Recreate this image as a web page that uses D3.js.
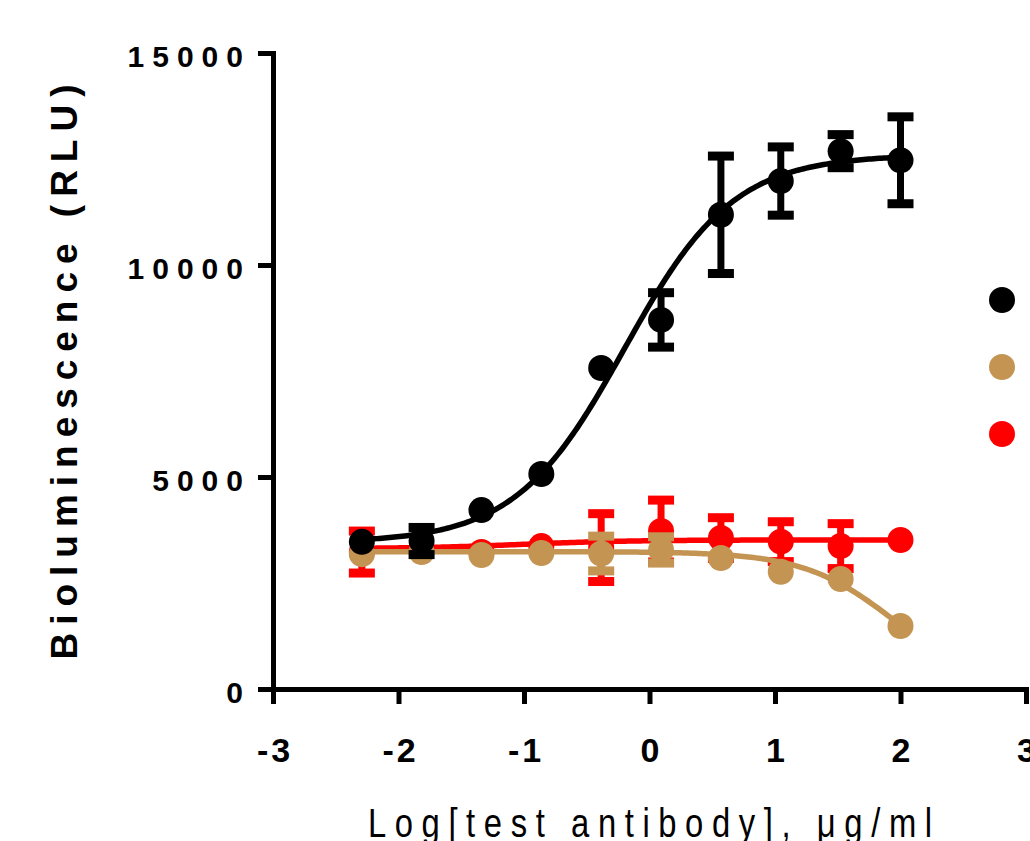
<!DOCTYPE html>
<html>
<head>
<meta charset="utf-8">
<script src="https://cdn.jsdelivr.net/npm/d3@7"></script>
<style>
  body { margin: 0; background: #fff; }
</style>
</head>
<body>
<div id="chart"></div>
<script>

// log10 concentration of the test antibody (3-fold dilutions)
var logConc = [-2.292, -1.816, -1.339, -0.862, -0.385, 0.092, 0.569, 1.046, 1.523, 2.0];

// mean RLU and error per series
var blackMean = [3470, 3490, 4220, 5070, 7570, 8705, 11184, 11980, 12685, 12470];
var blackErr  = [0, 320, 0, 0, 0, 642, 1385, 805, 390, 1025];
var tanMean   = [3180, 3230, 3160, 3207, 3195, 3280, 3090, 2765, 2595, 1485];
var tanErr    = [0, 0, 0, 0, 410, 310, 0, 0, 0, 0];
var redMean   = [3230, 3300, 3230, 3370, 3335, 3725, 3560, 3475, 3370, 3515];
var redErr    = [495, 0, 0, 0, 800, 730, 480, 470, 530, 0];

// 4PL fit parameters: bottom, top, logEC50, hill
var blackFit = [3450, 12600, -0.2, 1.0];
var tanFit   = [3240, 0, 1.95, 1.2];
var redFit   = [3310, 3515, -1.0, 1.0];

var xTicks = [-3, -2, -1, 0, 1, 2, 3];
var yTicks = [0, 5000, 10000, 15000];

var colors = ["#ff0000", "#c49452", "#000000"];   // red, tan, black
var legendColors = ["#000000", "#c49452", "#ff0000"];

var W = 1030, H = 841;

var svg = d3.select("#chart").append("svg")
    .attr("width", W)
    .attr("height", H)
    .style("display", "block");

svg.append("rect").attr("width", W).attr("height", H).attr("fill", "#fff");

var x = d3.scaleLinear().domain([-3, 3]).range([273, 1026]);
var y = d3.scaleLinear().domain([0, 15000]).range([689, 53]);

function fourPL(p, v) {
  return p[0] + (p[1] - p[0]) / (1 + Math.pow(10, (p[2] - v) * p[3]));
}

// axes
var yAxis = svg.append("g")
    .attr("transform", "translate(273,0)")
    .call(d3.axisLeft(y).tickValues(yTicks).tickSize(15).tickSizeOuter(0).tickPadding(7)
      .tickFormat(d3.format("d")));

var xAxis = svg.append("g")
    .attr("transform", "translate(0,689)")
    .call(d3.axisBottom(x).tickValues(xTicks).tickSize(15).tickSizeOuter(0)
      .tickFormat(function(d) { return d < 0 ? "-" + Math.abs(d) : d; }));

svg.selectAll(".domain").attr("stroke-width", 5).attr("stroke-linecap", "square");
svg.selectAll(".tick line").attr("stroke-width", 5);

yAxis.selectAll(".tick text")
    .style("font-family", "'Liberation Sans', Arial, sans-serif")
    .style("font-weight", "bold")
    .style("font-size", "30px")
    .style("letter-spacing", "8px")
    .attr("fill", "#000")
    .attr("dy", "0.45em");

xAxis.selectAll(".tick text")
    .style("font-family", "'Liberation Sans', Arial, sans-serif")
    .style("font-weight", "bold")
    .style("font-size", "34px")
    .style("letter-spacing", "3px")
    .attr("fill", "#000")
    .attr("y", 73)
    .attr("dy", 0)
    .attr("dx", 1.5);

// axis titles
svg.append("text")
    .attr("transform", "translate(650,837) scale(0.82,1)")
    .attr("text-anchor", "middle")
    .style("font-family", "'Liberation Sans', Arial, sans-serif")
    .style("font-size", "40px")
    .attr("textLength", 688)
    .attr("lengthAdjust", "spacing")
    .text("Log[test antibody], \u03bcg/ml");

svg.append("text")
    .attr("transform", "translate(77,372) rotate(-90)")
    .attr("text-anchor", "middle")
    .style("font-family", "'Liberation Sans', Arial, sans-serif")
    .style("font-weight", "bold")
    .style("font-size", "37px")
    .attr("textLength", 575)
    .attr("lengthAdjust", "spacing")
    .text("Bioluminescence (RLU)");

// series, drawn red -> tan -> black
var series = [
  { mean: redMean, err: redErr, fit: redFit, color: colors[0] },
  { mean: tanMean, err: tanErr, fit: tanFit, color: colors[1] },
  { mean: blackMean, err: blackErr, fit: blackFit, color: colors[2] }
];

var line = d3.line()
    .x(function(d) { return x(d); })
    .curve(d3.curveLinear);

var xs = d3.range(logConc[0], logConc[logConc.length - 1] + 0.0001, 0.02);

series.forEach(function(s) {
  var g = svg.append("g");

  g.append("path")
      .datum(xs)
      .attr("fill", "none")
      .attr("stroke", s.color)
      .attr("stroke-width", 5.5)
      .attr("d", line.y(function(v) { return y(fourPL(s.fit, v)); }));

  var pts = logConc.map(function(c, i) { return { c: c, m: s.mean[i], e: s.err[i] }; });
  var withErr = pts.filter(function(d) { return d.e > 0; });

  g.selectAll(".eb").data(withErr).enter().append("line")
      .attr("x1", function(d) { return x(d.c); })
      .attr("x2", function(d) { return x(d.c); })
      .attr("y1", function(d) { return y(d.m + d.e); })
      .attr("y2", function(d) { return y(d.m - d.e); })
      .attr("stroke", s.color)
      .attr("stroke-width", 7);

  [1, -1].forEach(function(sign) {
    g.selectAll(".cap" + sign).data(withErr).enter().append("rect")
        .attr("x", function(d) { return x(d.c) - 13; })
        .attr("y", function(d) { return y(d.m + sign * d.e) - 4.5; })
        .attr("width", 26)
        .attr("height", 9)
        .attr("fill", s.color);
  });

  g.selectAll("circle").data(pts).enter().append("circle")
      .attr("cx", function(d) { return x(d.c); })
      .attr("cy", function(d) { return y(d.m); })
      .attr("r", 13)
      .attr("fill", s.color);
});

// legend markers (labels fall outside the frame)
svg.selectAll(".legend").data(legendColors).enter().append("circle")
    .attr("cx", 1002)
    .attr("cy", function(d, i) { return 300 + i * 67; })
    .attr("r", 13)
    .attr("fill", function(d) { return d; });

</script>
</body>
</html>
